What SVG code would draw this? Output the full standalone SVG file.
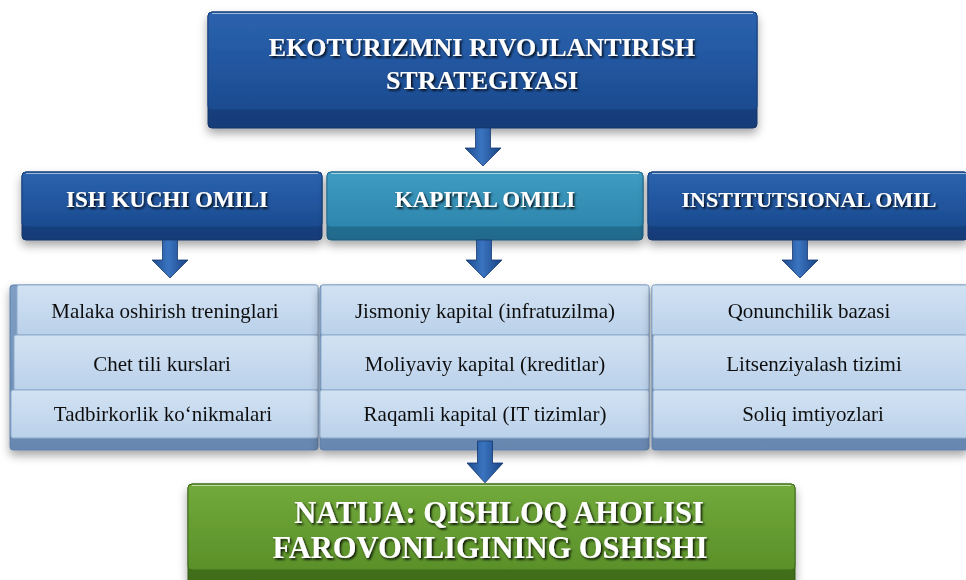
<svg xmlns="http://www.w3.org/2000/svg" width="966" height="580" viewBox="0 0 966 580">
<defs>
  <linearGradient id="gBlue" x1="0" y1="0" x2="0" y2="1">
    <stop offset="0" stop-color="#2c63ae"/>
    <stop offset="0.5" stop-color="#2257a0"/>
    <stop offset="1" stop-color="#1c4b8f"/>
  </linearGradient>
  <linearGradient id="gBlueSide" x1="0" y1="0" x2="0" y2="1">
    <stop offset="0" stop-color="#1c4a8f"/>
    <stop offset="1" stop-color="#163c78"/>
  </linearGradient>
  <linearGradient id="gTeal" x1="0" y1="0" x2="0" y2="1">
    <stop offset="0" stop-color="#3f9cc2"/>
    <stop offset="1" stop-color="#2d86ad"/>
  </linearGradient>
  <linearGradient id="gTealSide" x1="0" y1="0" x2="0" y2="1">
    <stop offset="0" stop-color="#2a7ca2"/>
    <stop offset="1" stop-color="#226a8c"/>
  </linearGradient>
  <linearGradient id="gCell" x1="0" y1="0" x2="0" y2="1">
    <stop offset="0" stop-color="#d2e2f3"/>
    <stop offset="1" stop-color="#bad1ea"/>
  </linearGradient>
  <linearGradient id="gCellSide" x1="0" y1="0" x2="0" y2="1">
    <stop offset="0" stop-color="#7f9fc4"/>
    <stop offset="1" stop-color="#6787b0"/>
  </linearGradient>
  <linearGradient id="gGreen" x1="0" y1="0" x2="0" y2="1">
    <stop offset="0" stop-color="#72aa3c"/>
    <stop offset="1" stop-color="#5a9029"/>
  </linearGradient>
  <linearGradient id="gGreenSide" x1="0" y1="0" x2="0" y2="1">
    <stop offset="0" stop-color="#4d8020"/>
    <stop offset="1" stop-color="#3f6c19"/>
  </linearGradient>
  <linearGradient id="gArrow" x1="0" y1="0" x2="1" y2="0">
    <stop offset="0" stop-color="#1d4a8c"/>
    <stop offset="0.45" stop-color="#3a74c0"/>
    <stop offset="1" stop-color="#1a4383"/>
  </linearGradient>
  <filter id="shadow" x="-10%" y="-20%" width="120%" height="160%">
    <feDropShadow dx="0" dy="5" stdDeviation="5" flood-color="#000" flood-opacity="0.35"/>
  </filter>
  <filter id="tshadow" x="-5%" y="-20%" width="110%" height="150%">
    <feDropShadow dx="1.5" dy="1.8" stdDeviation="1" flood-color="#000" flood-opacity="0.9"/>
  </filter>
  <polygon id="arrow" points="-7.5,0 7.5,0 7.5,20 18,20 0,38 -18,20 -7.5,20" fill="url(#gArrow)" stroke="#163a72" stroke-width="0.8"/>
</defs>
<style>
  .hdr { font-family: "Liberation Serif", "Times New Roman", serif; font-weight: bold; fill: #ffffff; text-anchor: middle; }
  .cell { font-family: "Liberation Serif", "Times New Roman", serif; font-size: 21px; fill: #111111; text-anchor: middle; }
  .cellface { fill: url(#gCell); stroke: #8eabcb; stroke-width: 1; }
  .hl { stroke: #ffffff; stroke-opacity: 0.55; stroke-width: 1; fill: none; }
</style>
<rect x="0" y="0" width="966" height="580" fill="#ffffff"/>

<g id="strategy" filter="url(#shadow)">
  <rect x="208" y="12" width="549" height="116" rx="4" fill="url(#gBlueSide)" stroke="#123366" stroke-width="1"/>
  <rect x="208" y="12" width="549" height="98" rx="4" fill="url(#gBlue)" stroke="#17407e" stroke-width="1"/>
  <line x1="212" y1="13.5" x2="753" y2="13.5" class="hl"/>
  <g filter="url(#tshadow)">
    <text class="hdr" x="482" y="56" font-size="26">EKOTURIZMNI RIVOJLANTIRISH</text>
    <text class="hdr" x="482" y="89" font-size="26">STRATEGIYASI</text>
  </g>
</g>

<g id="ish-kuchi" filter="url(#shadow)">
  <rect x="22" y="172" width="300" height="68" rx="4" fill="url(#gBlueSide)" stroke="#123366" stroke-width="1"/>
  <rect x="22" y="172" width="300" height="55" rx="4" fill="url(#gBlue)" stroke="#17407e" stroke-width="1"/>
  <line x1="26" y1="173.5" x2="318" y2="173.5" class="hl"/>
  <text class="hdr" x="167" y="207" font-size="23" filter="url(#tshadow)">ISH KUCHI OMILI</text>
</g>

<g id="kapital" filter="url(#shadow)">
  <rect x="327" y="172" width="316" height="68" rx="4" fill="url(#gTealSide)" stroke="#1c5a78" stroke-width="1"/>
  <rect x="327" y="172" width="316" height="55" rx="4" fill="url(#gTeal)" stroke="#226f93" stroke-width="1"/>
  <line x1="331" y1="173.5" x2="639" y2="173.5" class="hl"/>
  <text class="hdr" x="485" y="207" font-size="23" filter="url(#tshadow)">KAPITAL OMILI</text>
</g>

<g id="institutsional" filter="url(#shadow)">
  <rect x="648" y="172" width="320" height="68" rx="4" fill="url(#gBlueSide)" stroke="#123366" stroke-width="1"/>
  <rect x="648" y="172" width="320" height="55" rx="4" fill="url(#gBlue)" stroke="#17407e" stroke-width="1"/>
  <line x1="652" y1="173.5" x2="966" y2="173.5" class="hl"/>
  <text class="hdr" x="809" y="207" font-size="22" filter="url(#tshadow)">INSTITUTSIONAL OMIL</text>
</g>

<g id="col-ish-kuchi" filter="url(#shadow)">
  <rect x="10" y="285" width="308" height="165" rx="3" fill="url(#gCellSide)" stroke="#5f7fa8" stroke-width="1"/>
  <rect class="cellface" x="17" y="285" width="301" height="50" rx="2"/>
  <rect class="cellface" x="14" y="335" width="304" height="55" rx="2"/>
  <rect class="cellface" x="11" y="390" width="307" height="48" rx="2"/>
  <text class="cell" x="165" y="318">Malaka oshirish treninglari</text>
  <text class="cell" x="162" y="371">Chet tili kurslari</text>
  <text class="cell" x="163" y="421">Tadbirkorlik ko‘nikmalari</text>
</g>

<g id="col-kapital" filter="url(#shadow)">
  <rect x="320" y="285" width="329" height="165" rx="3" fill="url(#gCellSide)" stroke="#5f7fa8" stroke-width="1"/>
  <rect class="cellface" x="321" y="285" width="328" height="50" rx="2"/>
  <rect class="cellface" x="321" y="335" width="328" height="55" rx="2"/>
  <rect class="cellface" x="320" y="390" width="329" height="48" rx="2"/>
  <text class="cell" x="485" y="318">Jismoniy kapital (infratuzilma)</text>
  <text class="cell" x="485" y="371">Moliyaviy kapital (kreditlar)</text>
  <text class="cell" x="485" y="421">Raqamli kapital (IT tizimlar)</text>
</g>

<g id="col-institutsional" filter="url(#shadow)">
  <rect x="652" y="285" width="316" height="165" rx="3" fill="url(#gCellSide)" stroke="#5f7fa8" stroke-width="1"/>
  <rect class="cellface" x="652" y="285" width="316" height="50" rx="2"/>
  <rect class="cellface" x="653" y="335" width="315" height="55" rx="2"/>
  <rect class="cellface" x="653" y="390" width="315" height="48" rx="2"/>
  <text class="cell" x="809" y="318">Qonunchilik bazasi</text>
  <text class="cell" x="814" y="371">Litsenziyalash tizimi</text>
  <text class="cell" x="813" y="421">Soliq imtiyozlari</text>
</g>

<g id="natija" filter="url(#shadow)">
  <rect x="188" y="484" width="607" height="100" rx="4" fill="url(#gGreenSide)" stroke="#355c14" stroke-width="1"/>
  <rect x="188" y="484" width="607" height="86" rx="4" fill="url(#gGreen)" stroke="#3f6c19" stroke-width="1"/>
  <line x1="192" y1="485.5" x2="791" y2="485.5" class="hl"/>
  <g filter="url(#tshadow)">
    <text class="hdr" x="499" y="523" font-size="30.5">NATIJA: QISHLOQ AHOLISI</text>
    <text class="hdr" x="490" y="558" font-size="30.5">FAROVONLIGINING OSHISHI</text>
  </g>
</g>

<g id="connectors">
  <use href="#arrow" x="483" y="128"/>
  <use href="#arrow" x="170" y="240"/>
  <use href="#arrow" x="484" y="240"/>
  <use href="#arrow" x="800" y="240"/>
  <use href="#arrow" transform="translate(485,441) scale(1,1.1)"/>
</g>
</svg>
